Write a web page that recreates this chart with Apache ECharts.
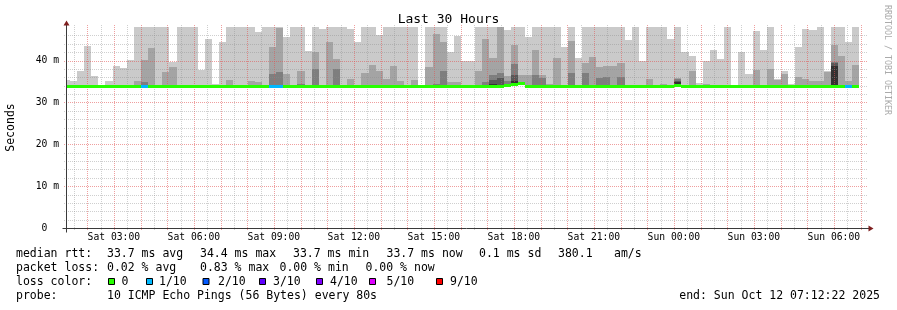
<!DOCTYPE html>
<html>
<head>
<meta charset="utf-8">
<title>Last 30 Hours</title>
<script src="https://cdn.jsdelivr.net/npm/echarts@6.0.0/dist/echarts.min.js"></script>
<style>
  html, body { margin: 0; padding: 0; background: #ffffff; }
  #chart { width: 897px; height: 310px; }
</style>
</head>
<body>
<div id="chart"></div>
<script>
  // time is in hours counted from Sat 00:00, one smoke column every 16 minutes
  var axisStart = 1.2061   // Sat 01:12:22
  var axisEnd = 31.2061    // Sun 07:12:22
  var slotStart = 1.0853
  var slotHours = 16 / 60
  var yMax = 48            // ms

  var tickHours = [3, 6, 9, 12, 15, 18, 21, 24, 27, 30]
  var tickMs = [0, 10, 20, 30, 40]

  // slowest ping of each column (top of the light smoke), ms
  var maxRtt = [
    35.3, 35.2, 37.4, 43.5, 36.4, 33.9, 35.0, 38.7, 38.2, 40.2,
    48, 48, 48, 48, 48, 39.7, 48, 48, 48, 37.7,
    45.2, 34.4, 44.4, 48, 48, 48, 48, 46.8, 48, 48,
    48, 45.5, 48, 48, 42.3, 48, 47.6, 48, 48, 48,
    47.5, 44.3, 48, 48, 46.2, 48, 48, 48, 48, 48,
    33.9, 48, 48, 48, 42.1, 45.8, 39.8, 39.8, 48, 48,
    48, 48, 47.3, 48, 48, 45.6, 48, 48, 48, 48,
    43.3, 48, 40.6, 48, 48, 48, 48, 48, 48, 44.8,
    48, 40.0, 48, 48, 48, 45.2, 48, 42.1, 41.1, 34.6,
    39.8, 42.5, 40.4, 48, 33.9, 42.1, 36.8, 47.1, 42.5, 48,
    35.6, 37.4, 34.4, 43.3, 47.5, 47.3, 48, 37.4, 48, 48,
    44.4, 48
  ]
  // 9th ping (second smoke ring)
  var ring2 = [
    null, null, null, null, null, null, null, null, null, null,
    35.2, 40.2, 43.1, 34.2, 37.3, 38.5, null, null, null, null,
    null, null, null, 35.4, null, null, 35.2, 34.9, null, 43.3,
    47.8, 36.7, null, 37.5, null, 42.1, null, 44.3, 40.4, null,
    35.7, null, 37.1, 39.0, 37.5, 35.7, 38.6, 35.2, null, 35.4,
    null, 38.4, 46.4, 44.3, 34.8, 34.9, null, null, 37.5, 45.2,
    40.7, 48, 36.4, 43.6, 36.6, 36.6, 42.6, 36.5, 34.5, 40.6,
    null, 44.7, null, 39.5, 40.9, 38.5, 38.6, 38.6, 39.5, null,
    null, null, 35.7, null, 34.5, null, 35.8, null, 37.4, null,
    34.5, null, null, null, null, null, null, 37.8, null, 38.0,
    35.4, 36.8, null, 36.0, 35.6, 35.0, 35.2, 37.3, 43.8, 41.1,
    35.2, 39.0
  ]
  // inner rings, only where they show: [column, ms]
  var ring3 = [[11, 34.8], [29, 36.8], [30, 37.3], [33, 34.3], [35, 37.9], [38, 37.9],
    [52, 34.3], [53, 37.5], [59, 34.8], [60, 36.5], [61, 37.0], [62, 35.0], [63, 39.2],
    [66, 36.5], [67, 35.8], [71, 36.9], [73, 37.1], [75, 35.9], [76, 36.0], [78, 36.0],
    [86, 35.5], [108, 39.6]]
  var ring4 = [[60, 35.3], [61, 35.8], [63, 36.6], [86, 35.2], [108, 39.5]]
  var ring5 = [[59, 34.2], [60, 34.3], [62, 34.5], [63, 35.0], [86, 34.9], [108, 38.7]]

  var median = [
    33.7, 33.7, 33.7, 33.7, 33.7, 33.7, 33.7, 33.7, 33.7, 33.7,
    33.7, 33.7, 33.7, 33.7, 33.7, 33.7, 33.7, 33.7, 33.7, 33.7,
    33.7, 33.7, 33.7, 33.7, 33.7, 33.7, 33.7, 33.7, 33.7, 33.7,
    33.7, 33.7, 33.7, 33.7, 33.7, 33.7, 33.7, 33.7, 33.7, 33.7,
    33.7, 33.7, 33.7, 33.7, 33.7, 33.7, 33.7, 33.7, 33.7, 33.7,
    33.7, 33.7, 33.7, 33.7, 33.7, 33.7, 33.7, 33.7, 33.7, 33.8,
    33.8, 33.9, 34.0, 34.2, 34.4, 33.9, 33.7, 33.7, 33.7, 33.7,
    33.7, 33.7, 33.7, 33.7, 33.7, 33.7, 33.7, 33.7, 33.7, 33.7,
    33.7, 33.7, 33.7, 33.7, 33.7, 33.7, 34.1, 33.7, 33.7, 33.7,
    33.7, 33.7, 33.7, 33.7, 33.7, 33.7, 33.7, 33.7, 33.7, 33.7,
    33.7, 33.7, 33.7, 33.7, 33.7, 33.7, 33.7, 33.7, 33.7, 33.7,
    33.7, 33.7
  ]
  // lost pings out of 10
  var loss = [
    0, 0, 0, 0, 0, 0, 0, 0, 0, 0,
    0, 1, 0, 0, 0, 0, 0, 0, 0, 0,
    0, 0, 0, 0, 0, 0, 0, 0, 0, 1,
    1, 0, 0, 0, 0, 0, 0, 0, 0, 0,
    0, 0, 0, 0, 0, 0, 0, 0, 0, 0,
    0, 0, 0, 0, 0, 0, 0, 0, 0, 0,
    0, 0, 0, 0, 0, 0, 0, 0, 0, 0,
    0, 0, 0, 0, 0, 0, 0, 0, 0, 0,
    0, 0, 0, 0, 0, 0, 0, 0, 0, 0,
    0, 0, 0, 0, 0, 0, 0, 0, 0, 0,
    0, 0, 0, 0, 0, 0, 0, 0, 0, 0,
    1, 0
  ]

  var lossLabels = ['0', '1/10', '2/10', '3/10', '4/10', '5/10', '9/10']
  var lossColors = ['#26ff00', '#00b8ff', '#0059ff', '#5e00ff', '#7e00ff', '#dd00ff', '#ff0000']
  var rttStats = ['33.7 ms avg', '34.4 ms max', '33.7 ms min', '33.7 ms now', '0.1 ms sd', '380.1', 'am/s']
  var lossStats = ['0.02 % avg', '0.83 % max', '0.00 % min', '0.00 % now']
  var probeText = '10 ICMP Echo Pings (56 Bytes) every 80s'
  var endText = 'end: Sun Oct 12 07:12:22 2025'

  var mono = '"DejaVu Sans Mono", monospace'
  var smokeColors = ['#cacaca', '#a4a4a4', '#7e7e7e', '#585858', '#323232']
  var minorColor = 'rgba(140,140,140,0.42)'
  var majorColor = 'rgba(225,80,80,0.55)'

  function slotData (values) {
    var out = []
    for (var i = 0; i < values.length; i++) {
      if (values[i] == null) continue
      var t = slotStart + i * slotHours
      out.push([t, t + slotHours, median[i], values[i]])
    }
    return out
  }
  function pairData (pairs) {
    return pairs.map(function (p) {
      var t = slotStart + p[0] * slotHours
      return [t, t + slotHours, median[p[0]], p[1]]
    })
  }
  function medianData () {
    return median.map(function (m, i) {
      var t = slotStart + i * slotHours
      return [t, t + slotHours, m, loss[i]]
    })
  }

  function clipToGrid (rect, params) {
    return echarts.graphic.clipRectByRect(rect, {
      x: params.coordSys.x,
      y: params.coordSys.y,
      width: params.coordSys.width,
      height: params.coordSys.height
    })
  }

  function renderBand (params, api) {
    var a = api.coord([api.value(0), api.value(3)])
    var b = api.coord([api.value(1), api.value(2)])
    var x0 = Math.round(a[0])
    var x1 = Math.round(b[0])
    var y0 = Math.round(a[1])
    var rect = clipToGrid({ x: x0, y: y0, width: x1 - x0, height: Math.round(b[1]) - y0 }, params)
    return rect && { type: 'rect', shape: rect, style: { fill: api.visual('color') } }
  }

  function renderMedian (params, api) {
    var a = api.coord([api.value(0), api.value(2)])
    var b = api.coord([api.value(1), api.value(2)])
    var x0 = Math.round(a[0])
    var rect = clipToGrid({ x: x0, y: Math.round(a[1] - 1.5), width: Math.round(b[0]) - x0, height: 3 }, params)
    return rect && { type: 'rect', shape: rect, style: { fill: lossColors[api.value(3)] } }
  }

  // dotted grid, drawn over the smoke like rrdtool does
  var vGrid = []
  var hGrid = []
  for (var h = 1.5; h < axisEnd; h += 0.5) {
    if (h > axisStart) vGrid.push([h, h % 1 === 0 ? 1 : 0])
  }
  for (var v = 2; v < yMax; v += 2) {
    hGrid.push([v, v % 10 === 0 ? 1 : 0])
  }

  function renderVGrid (params, api) {
    var top = api.coord([api.value(0), yMax])
    var bot = api.coord([api.value(0), 0])
    var x = Math.round(top[0]) + 0.5
    return {
      type: 'line',
      shape: { x1: x, y1: Math.round(top[1]) - 2, x2: x, y2: Math.round(bot[1]) + 2 },
      style: { stroke: api.value(1) ? majorColor : minorColor, lineWidth: 1, lineDash: [1, 1] }
    }
  }
  function renderHGrid (params, api) {
    var l = api.coord([axisStart, api.value(0)])
    var r = api.coord([axisEnd, api.value(0)])
    var y = Math.round(l[1]) + 0.5
    return {
      type: 'line',
      shape: { x1: Math.round(l[0]) - 2, y1: y, x2: Math.round(r[0]) + 2, y2: y },
      style: { stroke: api.value(1) ? majorColor : minorColor, lineWidth: 1, lineDash: [1, 1] }
    }
  }

  // axis lines stick out 4px and end in small arrows
  function renderAxes (params, api) {
    var o = api.coord([axisStart, 0])
    var e = api.coord([axisEnd, 0])
    var t = api.coord([axisStart, yMax])
    var x0 = Math.round(o[0]) + 0.5
    var y0 = Math.round(o[1]) + 0.5
    var x1 = Math.round(e[0]) + 0.5
    var y1 = Math.round(t[1]) + 0.5
    var axis = { stroke: '#3a3a3a', lineWidth: 1 }
    var arrow = { fill: '#7f1f1f' }
    return {
      type: 'group',
      children: [
        { type: 'line', shape: { x1: x0 - 4, y1: y0, x2: x1 + 4, y2: y0 }, style: axis },
        { type: 'line', shape: { x1: x0, y1: y0 + 4, x2: x0, y2: y1 - 4 }, style: axis },
        { type: 'polygon', shape: { points: [[x1 + 2, y0 - 3], [x1 + 2, y0 + 3], [x1 + 7, y0]] }, style: arrow },
        { type: 'polygon', shape: { points: [[x0 - 3, y1 - 2], [x0 + 3, y1 - 2], [x0, y1 - 7]] }, style: arrow }
      ]
    }
  }

  function hourLabel (v) {
    var day = v >= 24 ? 'Sun' : 'Sat'
    var h = v % 24
    return day + ' ' + (h < 10 ? '0' + h : h) + ':00'
  }

  function text (x, y, str, opts) {
    opts = opts || {}
    return {
      type: 'text',
      x: x,
      y: y,
      rotation: opts.rotation || 0,
      silent: true,
      style: {
        text: str,
        fill: opts.color || '#000',
        fontSize: opts.size || 11.5,
        fontFamily: mono,
        align: opts.align || 'left',
        textAlign: opts.align || 'left',
        verticalAlign: 'middle',
        textVerticalAlign: 'middle'
      }
    }
  }

  var rowY = [254, 268, 282, 296]
  var rttX = [107, 200, 293, 386.5, 479, 558, 614]
  var lossX = [107, 200, 279.5, 365.5]
  var boxX = [108, 146, 202.5, 259, 316, 369, 436]
  var boxLabelX = [121.5, 159, 218, 273, 330, 386.5, 450]

  var graphics = [
    text(448.5, 19.5, 'Last 30 Hours', { size: 13, align: 'center' }),
    text(11, 127.5, 'Seconds', { rotation: Math.PI / 2, align: 'center' }),
    text(887, 60, 'RRDTOOL / TOBI OETIKER', { rotation: -Math.PI / 2, align: 'center', size: 8.3, color: '#aaaaaa' }),
    text(16, rowY[0], 'median rtt:'),
    text(16, rowY[1], 'packet loss:'),
    text(16, rowY[2], 'loss color:'),
    text(16, rowY[3], 'probe:'),
    text(107, rowY[3], probeText),
    text(880, rowY[3], endText, { align: 'right' })
  ]
  rttStats.forEach(function (s, i) { graphics.push(text(rttX[i], rowY[0], s)) })
  lossStats.forEach(function (s, i) { graphics.push(text(lossX[i], rowY[1], s)) })
  lossLabels.forEach(function (s, i) {
    graphics.push({
      type: 'rect',
      silent: true,
      shape: { x: boxX[i] + 0.5, y: 278.5, width: 6, height: 6 },
      style: { fill: lossColors[i], stroke: '#000', lineWidth: 1 }
    })
    graphics.push(text(boxLabelX[i], rowY[2], s))
  })

  var bandSeries = [slotData(maxRtt), slotData(ring2), pairData(ring3), pairData(ring4), pairData(ring5)]
    .map(function (data, i) {
      return {
        type: 'custom',
        name: 'smoke' + (i + 1),
        renderItem: renderBand,
        itemStyle: { color: smokeColors[i] },
        encode: { x: [0, 1], y: [2, 3] },
        data: data,
        silent: true,
        z: i + 1
      }
    })

  var option = {
    animation: false,
    backgroundColor: '#ffffff',
    grid: { left: 66, top: 27, width: 800, height: 201 },
    xAxis: {
      type: 'value',
      min: axisStart,
      max: axisEnd,
      axisLine: { show: false },
      axisTick: { show: false },
      splitLine: { show: false },
      axisLabel: {
        customValues: tickHours,
        formatter: hourLabel,
        color: '#000',
        fontFamily: mono,
        fontSize: 9.7,
        margin: 4
      }
    },
    yAxis: {
      type: 'value',
      min: 0,
      max: yMax,
      axisLine: { show: false },
      axisTick: { show: false },
      splitLine: { show: false },
      axisLabel: {
        customValues: tickMs,
        formatter: function (v) { return v === 0 ? '0\u00a0\u00a0' : v + ' m' },
        color: '#000',
        fontFamily: mono,
        fontSize: 9.7,
        margin: 7
      }
    },
    graphic: graphics,
    series: bandSeries.concat([
      { type: 'custom', name: 'vgrid', renderItem: renderVGrid, data: vGrid, silent: true, z: 6 },
      { type: 'custom', name: 'hgrid', renderItem: renderHGrid, data: hGrid, silent: true, z: 6 },
      {
        type: 'custom',
        name: 'median rtt',
        renderItem: renderMedian,
        encode: { x: [0, 1], y: 2 },
        data: medianData(),
        silent: true,
        z: 7
      },
      { type: 'custom', name: 'axes', renderItem: renderAxes, data: [[axisStart, 0]], silent: true, z: 8 }
    ])
  }

  var chart = echarts.init(document.getElementById('chart'))
  chart.setOption(option)
</script>
</body>
</html>
